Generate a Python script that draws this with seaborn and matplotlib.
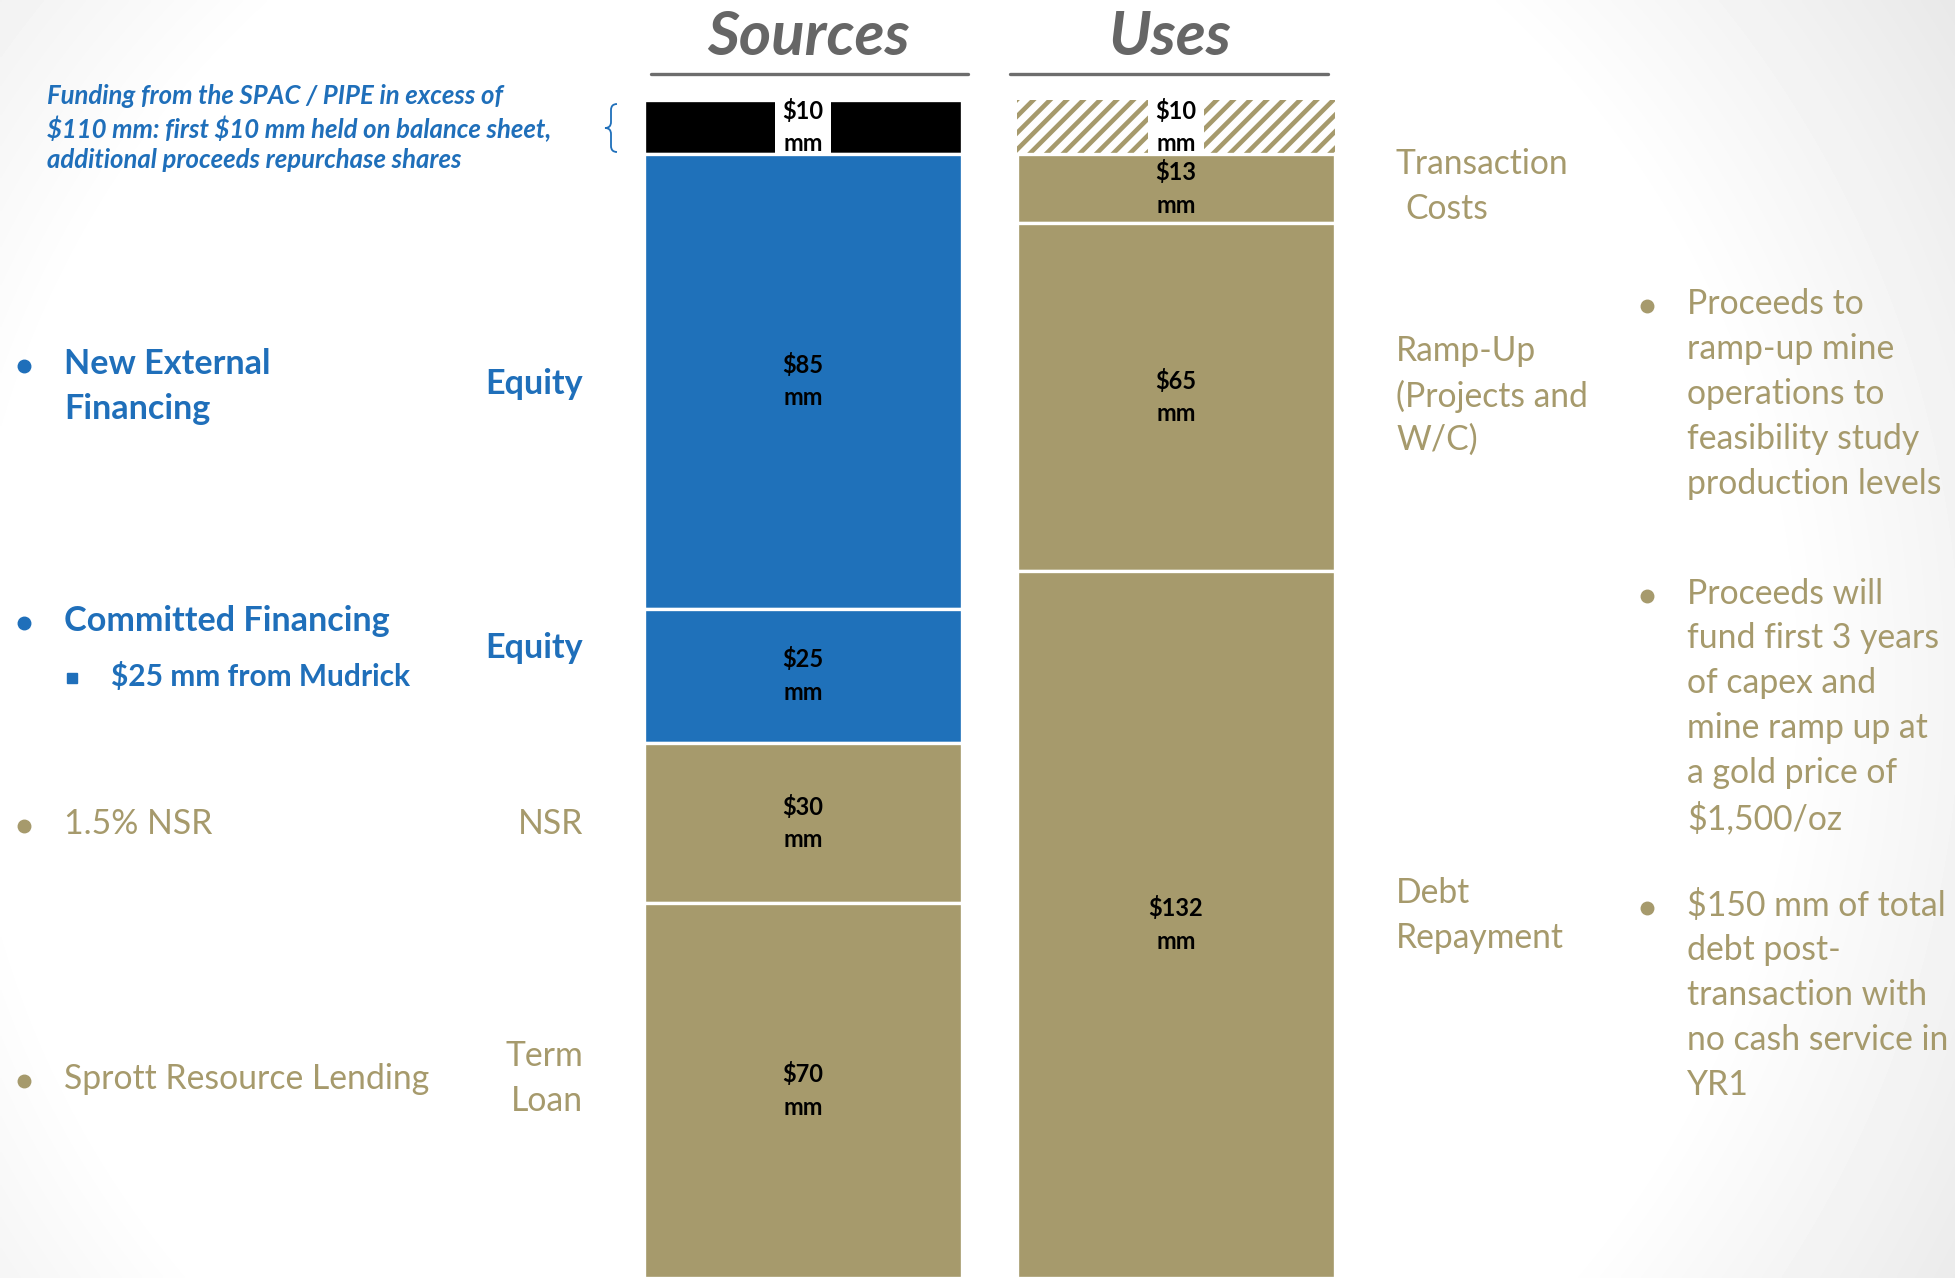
import numpy as np
import pandas as pd
import matplotlib
matplotlib.use("Agg")
import matplotlib.pyplot as plt
import matplotlib.transforms as mtransforms
from matplotlib.lines import Line2D
from matplotlib.path import Path
from matplotlib.patches import PathPatch, Rectangle
import seaborn as sns

# ---------------- data ----------------
sides = ["Sources", "Uses"]
source_segments = ["Excess SPAC / PIPE", "New External Financing", "Committed Financing", "NSR", "Term Loan"]
source_values = [10, 85, 25, 30, 70]
source_colors = ["#000000", "#1F71BA", "#1F71BA", "#A69A6C", "#A69A6C"]
source_hatch = [None, None, None, None, None]
use_segments = ["Excess", "Transaction Costs", "Ramp-Up", "Debt Repayment"]
use_values = [10, 13, 65, 132]
use_colors = ["#FFFFFF", "#A69A6C", "#A69A6C", "#A69A6C"]
use_hatch = ["//", None, None, None]
boxed_segments = ["Excess SPAC / PIPE", "Excess"]

BLUE = "#1F6FBA"
TAN = "#A69A6C"
GRAY = "#666666"

W, H, DPI = 1956, 1278, 100

sns.set_theme(style="white")
plt.rcParams["font.family"] = ["Lato", "DejaVu Sans"]
plt.rcParams["hatch.linewidth"] = 3.3

fig = plt.figure(figsize=(W / DPI, H / DPI), dpi=DPI)
fig.patch.set_facecolor("white")
PX = mtransforms.Affine2D().scale(1.0 / W, -1.0 / H).translate(0, 1) + fig.transFigure

# subtle background gradient
bg = fig.add_axes([0, 0, 1, 1], zorder=-10)
yy, xx = np.mgrid[0:H:3, 0:W:3]
d = np.hypot(xx - 880, yy - 680)
shade = 1 - 0.12 * np.clip((d - 900) / 500, 0, 1)
bg.imshow(shade, cmap="gray", vmin=0, vmax=1, extent=(0, W, H, 0), aspect="auto",
          interpolation="bilinear")
bg.set_xlim(0, W)
bg.set_ylim(H, 0)
bg.axis("off")

# ---------------- bars ----------------
rows = []
for side, segs, vals, cols, hs in [
    ("Sources", source_segments, source_values, source_colors, source_hatch),
    ("Uses", use_segments, use_values, use_colors, use_hatch),
]:
    cum = 0
    for s, v, c, h in zip(segs, vals, cols, hs):
        rows.append(dict(side=side, segment=s, value=v, bottom=cum, color=c, hatch=h))
        cum += v
df = pd.DataFrame(rows)

x_src, x_use = 803, 1176
step = x_use - x_src
left_px, right_px = x_src - step / 2, x_use + step / 2
top_px = 100
ax = fig.add_axes([left_px / W, 0, (right_px - left_px) / W, 1 - top_px / H])
ax.patch.set_alpha(0)

for _, r in df.iterrows():
    if r.hatch:
        sns.barplot(x=[r.side], y=[r.value], order=sides, bottom=r.bottom, color=r.color,
                    saturation=1, width=0.855, edgecolor=TAN, linewidth=0, hatch=r.hatch,
                    errorbar=None, ax=ax)
    else:
        sns.barplot(x=[r.side], y=[r.value], order=sides, bottom=r.bottom, color=r.color,
                    saturation=1, width=0.855, edgecolor="white", linewidth=2.4,
                    errorbar=None, ax=ax)

total = df.groupby("side")["value"].sum().max()
ax.set_xlim(-0.5, 1.5)
ax.set_ylim(total, 0)
ax.axis("off")

for _, r in df.iterrows():
    xi = sides.index(r.side)
    if r.segment in boxed_segments:
        ax.add_patch(Rectangle((xi - 0.076, r.bottom), 0.152, r.value, facecolor="white",
                               edgecolor="none", zorder=3))
    ax.text(xi, r.bottom + r.value / 2, f"${r.value}\nmm", ha="center", va="center",
            fontsize=17, fontweight="bold", color="black", linespacing=1.5,
            parse_math=False, zorder=4)

# ---------------- titles ----------------
def T(x, y, s, size, color, weight="normal", style="normal", ha="left", va="center"):
    fig.text(x / W, 1 - y / H, s, fontsize=size, color=color, fontweight=weight,
             fontstyle=style, ha=ha, va=va, parse_math=False)

T(808, 37, "Sources", 44.5, GRAY, "bold", "italic", ha="center")
T(1170, 37, "Uses", 44.5, GRAY, "bold", "italic", ha="center")
for xa, xb in [(651, 968), (1010, 1328)]:
    fig.add_artist(Line2D([xa, xb], [74, 74], color="#6D6D6D", lw=2.4, transform=PX))

# ---------------- left annotations ----------------
note = ["Funding from the SPAC / PIPE in excess of",
        "$110 mm: first $10 mm held on balance sheet,",
        "additional proceeds repurchase shares"]
for s, y in zip(note, [96, 128.5, 160]):
    T(47, y, s, 18.5, BLUE, "bold", "italic")

brace = Path([(617, 104), (611, 104), (611, 110), (611, 122), (611, 128), (605, 128),
              (611, 128), (611, 134), (611, 146), (611, 152), (617, 152)],
             [Path.MOVETO, Path.CURVE3, Path.CURVE3, Path.LINETO, Path.CURVE3, Path.CURVE3,
              Path.CURVE3, Path.CURVE3, Path.LINETO, Path.CURVE3, Path.CURVE3])
fig.add_artist(PathPatch(brace, facecolor="none", edgecolor=BLUE, lw=1.3, transform=PX))


def bullet(x, y, color, marker="o", ms=9):
    fig.add_artist(Line2D([x], [y], marker=marker, ms=ms, color=color, mec=color,
                          linestyle="none", transform=PX))


bullet(24, 366, BLUE)
T(64, 364, "New External", 24.6, BLUE, "bold")
T(64, 409, "Financing", 24.6, BLUE, "bold")
T(583, 384, "Equity", 24.6, BLUE, "bold", ha="right")

bullet(24, 623, BLUE)
T(64, 621, "Committed Financing", 24.6, BLUE, "bold")
bullet(72, 678, BLUE, "s", 6.5)
T(111, 677, "$25 mm from Mudrick", 21.5, BLUE, "bold")
T(583, 648, "Equity", 24.6, BLUE, "bold", ha="right")

bullet(24, 826, TAN)
T(64, 824, "1.5% NSR", 24.3, TAN)
T(583, 824, "NSR", 24.3, TAN, ha="right")

bullet(24, 1081, TAN)
T(64, 1079, "Sprott Resource Lending", 24.3, TAN)
T(583, 1056, "Term", 24.3, TAN, ha="right")
T(583, 1101, "Loan", 24.3, TAN, ha="right")

# ---------------- right annotations ----------------
T(1396, 164, "Transaction", 24.2, TAN)
T(1405, 209, "Costs", 24.2, TAN)
for s, y in zip(["Ramp-Up", "(Projects and", "W/C)"], [351.5, 396.5, 440]):
    T(1396, y, s, 24.2, TAN)
T(1396, 893, "Debt", 24.2, TAN)
T(1396, 938, "Repayment", 24.2, TAN)

blocks = [
    (["Proceeds to", "ramp-up mine", "operations to", "feasibility study", "production levels"], 304),
    (["Proceeds will", "fund first 3 years", "of capex and", "mine ramp up at",
      "a gold price of", "$1,500/oz"], 593.5),
    (["$150 mm of total", "debt post-", "transaction with", "no cash service in", "YR1"], 905.5),
]
for lines, y0 in blocks:
    bullet(1647, y0 + 2, TAN)
    for i, s in enumerate(lines):
        T(1687, y0 + i * 44.9, s, 24.3, TAN)

fig.savefig("out.png", dpi=DPI)
